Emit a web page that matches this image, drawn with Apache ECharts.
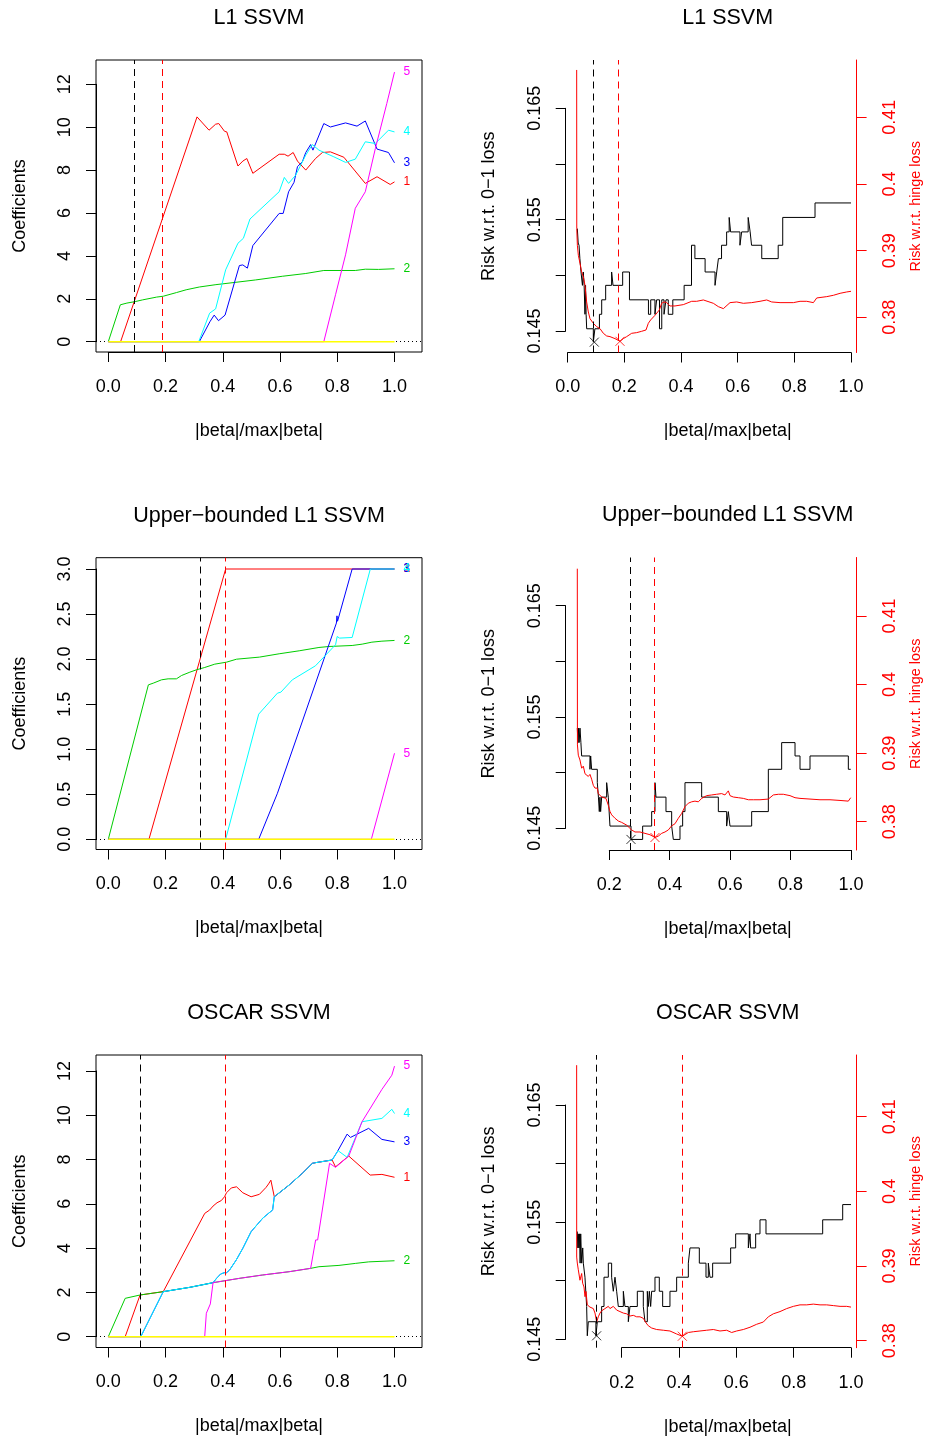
<!DOCTYPE html>
<html>
<head>
<meta charset="utf-8">
<title>SSVM coefficient paths and risk</title>
<script src="https://cdn.jsdelivr.net/npm/echarts@6.0.0/dist/echarts.min.js"></script>
<style>
html,body{margin:0;padding:0;background:#ffffff;}
#chart{width:925px;height:1440px;}
</style>
</head>
<body>
<div id="chart"></div>
<script>
// ================= DATA =================
const titles = ['L1 SSVM', 'Upper\u2212bounded L1 SSVM', 'OSCAR SSVM'];
const xName = '|beta|/max|beta|';
const coefName = 'Coefficients';
const risk01Name = 'Risk w.r.t. 0\u22121 loss';
const hingeName = 'Risk w.r.t. hinge loss';
const varLabels = ['1', '2', '3', '4', '5', '6'];

const fracTicks = [0, 0.2, 0.4, 0.6, 0.8, 1.0];
const fracTicksTrim = [0.2, 0.4, 0.6, 0.8, 1.0];
const coefTicks = [0, 2, 4, 6, 8, 10, 12];
const ubCoefTicks = [0, 0.5, 1, 1.5, 2, 2.5, 3];
const risk01Ticks = [0.145, 0.150, 0.155, 0.160, 0.165];
const risk01Labels = [0.145, 0.155, 0.165];
const hingeTicks = [0.38, 0.39, 0.40, 0.41];

// ---- L1 SSVM coefficient paths ----
const l1Coef1 = [[0,0],[0.043,0],[0.31,10.48],[0.352,9.86],[0.375,10.14],[0.386,10.17],[0.406,9.81],[0.414,9.78],[0.453,8.19],[0.47,8.42],[0.484,8.54],[0.505,7.85],[0.597,8.74],[0.615,8.74],[0.628,8.65],[0.646,8.82],[0.661,8.42],[0.69,8.0],[0.724,8.54],[0.748,8.82],[0.776,8.85],[0.823,8.6],[0.898,7.38],[0.939,7.69],[0.985,7.33],[1.0,7.45]];
const l1Coef2 = [[0,0],[0.042,1.72],[0.065,1.8],[0.094,1.87],[0.12,1.95],[0.169,2.08],[0.192,2.12],[0.238,2.29],[0.272,2.42],[0.318,2.55],[0.376,2.66],[0.446,2.77],[0.515,2.88],[0.608,3.05],[0.69,3.18],[0.753,3.32],[0.863,3.32],[0.898,3.38],[0.944,3.37],[1.0,3.4]];
const l1Coef3 = [[0,0],[0.318,0],[0.355,0.93],[0.37,1.24],[0.385,0.98],[0.408,1.24],[0.458,3.55],[0.47,3.58],[0.486,3.43],[0.505,4.48],[0.597,5.98],[0.611,5.98],[0.63,6.99],[0.649,7.43],[0.661,8.16],[0.678,8.39],[0.69,8.82],[0.707,9.19],[0.715,8.93],[0.753,10.17],[0.776,10.01],[0.829,10.2],[0.869,10.05],[0.898,10.29],[0.939,8.98],[0.979,8.82],[1.0,8.34]];
const l1Coef4 = [[0,0],[0.316,0],[0.354,1.33],[0.375,1.53],[0.41,3.35],[0.453,4.59],[0.472,4.82],[0.495,5.72],[0.597,6.99],[0.615,7.66],[0.63,7.38],[0.655,7.77],[0.69,8.7],[0.713,9.19],[0.736,8.93],[0.788,8.62],[0.829,8.36],[0.863,8.51],[0.898,9.32],[0.933,9.24],[0.979,9.86],[1.0,9.78]];
const l1Coef5 = [[0,0],[0.753,0],[0.794,2.19],[0.829,4.05],[0.863,6.22],[0.898,6.99],[0.933,9.0],[0.973,11.1],[1.0,12.57]];
const l1Coef6 = [[0,0],[1.0,0]];
const l1SelLeft = [0.094, 0.186];

// ---- Upper-bounded L1 SSVM coefficient paths ----
const ubCoef1 = [[0,0],[0.142,0],[0.41,3.0],[1.0,3.0]];
const ubCoef2 = [[0,0],[0.14,1.714],[0.157,1.733],[0.186,1.77],[0.209,1.781],[0.238,1.781],[0.256,1.818],[0.285,1.855],[0.308,1.881],[0.337,1.907],[0.372,1.944],[0.413,1.966],[0.448,1.999],[0.528,2.022],[0.597,2.059],[0.667,2.092],[0.736,2.129],[0.771,2.14],[0.852,2.151],[0.887,2.166],[0.921,2.188],[0.956,2.199],[1.0,2.207]];
const ubCoef3 = [[0,0],[0.5255,0],[0.591,0.511],[0.797,2.40],[0.799,2.48],[0.801,2.42],[0.852,3.0],[1.0,3.0]];
const ubCoef4 = [[0,0],[0.41,0],[0.5255,1.389],[0.591,1.622],[0.603,1.633],[0.643,1.77],[0.724,1.926],[0.794,2.159],[0.7998,2.251],[0.808,2.233],[0.852,2.24],[0.9155,3.0],[1.0,3.0]];
const ubCoef5 = [[0,0],[0.919,0],[1.0,0.955]];
const ubCoef6 = [[0,0],[1.0,0]];
const ubSelLeft = [0.319, 0.41];

// ---- OSCAR SSVM coefficient paths ----
const osCoef1 = [[0,0],[0.059,0],[0.111,1.884],[0.192,2.035],[0.337,5.57],[0.354,5.72],[0.366,5.9],[0.372,5.95],[0.38,6.05],[0.384,6.0],[0.395,6.15],[0.40,6.1],[0.406,6.32],[0.413,6.5],[0.43,6.72],[0.448,6.77],[0.47,6.5],[0.499,6.32],[0.528,6.43],[0.551,6.74],[0.56,6.9],[0.563,6.85],[0.568,7.07],[0.572,7.1],[0.58,6.32],[0.632,6.85],[0.678,7.38],[0.713,7.83],[0.724,7.86],[0.782,7.98],[0.788,7.98],[0.794,7.67],[0.84,8.16],[0.915,7.3],[0.956,7.33],[1.0,7.2]];
const osCoef2 = [[0,0],[0.059,1.733],[0.111,1.884],[0.192,2.035],[0.285,2.23],[0.366,2.44],[0.458,2.635],[0.539,2.786],[0.632,2.936],[0.707,3.087],[0.736,3.16],[0.806,3.22],[0.863,3.31],[0.91,3.38],[1.0,3.43]];
const osCoef3 = [[0,0],[0.1134,0],[0.192,2.035],[0.285,2.23],[0.366,2.44],[0.3785,2.64],[0.3924,2.83],[0.4051,2.89],[0.413,2.89],[0.4236,3.01],[0.4468,3.46],[0.4699,3.99],[0.4988,4.74],[0.5394,5.35],[0.5625,5.6],[0.5741,5.72],[0.58,6.32],[0.632,6.85],[0.678,7.38],[0.713,7.83],[0.724,7.86],[0.782,7.98],[0.788,7.98],[0.8,8.35],[0.8345,9.15],[0.8461,9.0],[0.9097,9.41],[0.956,8.91],[1.0,8.8]];
const osCoef4 = [[0,0],[0.1134,0],[0.192,2.035],[0.285,2.23],[0.366,2.44],[0.3785,2.64],[0.3924,2.83],[0.4051,2.89],[0.413,2.89],[0.4236,3.01],[0.4468,3.46],[0.4699,3.99],[0.4988,4.74],[0.5394,5.35],[0.5625,5.6],[0.5741,5.72],[0.58,6.32],[0.632,6.85],[0.678,7.38],[0.713,7.83],[0.724,7.86],[0.782,7.98],[0.788,7.98],[0.803,8.4],[0.8345,8.1],[0.8403,8.16],[0.8866,9.71],[0.956,9.86],[0.9907,10.27],[1.0,10.08]];
const osCoef5 = [[0,0],[0.3368,0],[0.3426,1.06],[0.3565,1.48],[0.366,2.44],[0.458,2.635],[0.539,2.786],[0.632,2.936],[0.707,3.087],[0.7245,4.37],[0.7315,4.37],[0.7731,7.83],[0.794,7.65],[0.8403,8.16],[0.8866,9.71],[0.956,11.17],[0.9907,11.81],[1.0,12.22]];
const osCoef6 = [[0,0],[1.0,0]];
const osSelLeft = [0.113, 0.412];

// ---- L1 SSVM risk curves ----
const l1Risk01 = [[0.034,0.1542],[0.037,0.1529],[0.040,0.1527],[0.043,0.1515],[0.047,0.1503],[0.052,0.1491],[0.055,0.1503],[0.058,0.1491],[0.061,0.1465],[0.063,0.1491],[0.065,0.1465],[0.067,0.1452],[0.0905,0.1440],[0.096,0.1452],[0.112,0.1465],[0.120,0.1478],[0.134,0.1491],[0.155,0.1503],[0.160,0.1491],[0.194,0.1503],[0.218,0.1478],[0.285,0.1465],[0.293,0.1478],[0.308,0.1465],[0.314,0.1478],[0.324,0.1452],[0.332,0.1478],[0.340,0.1465],[0.347,0.1478],[0.355,0.1465],[0.371,0.1478],[0.411,0.1491],[0.437,0.1527],[0.449,0.1515],[0.485,0.1503],[0.520,0.1491],[0.526,0.1503],[0.532,0.1515],[0.543,0.1527],[0.561,0.1539],[0.570,0.1552],[0.575,0.1539],[0.608,0.1527],[0.614,0.1539],[0.637,0.1552],[0.644,0.1539],[0.649,0.1527],[0.685,0.1515],[0.743,0.1527],[0.759,0.1552],[0.873,0.1565],[1.0,0.1565]];
const l1RiskHinge = [[0.0317,0.4171],[0.0320,0.3933],[0.0341,0.3908],[0.0376,0.3893],[0.0434,0.3881],[0.0493,0.3868],[0.0552,0.3861],[0.0610,0.3848],[0.0669,0.3823],[0.0728,0.3808],[0.0787,0.3798],[0.0905,0.3791],[0.1022,0.3786],[0.114,0.3783],[0.1258,0.3776],[0.1375,0.3772],[0.1493,0.3771],[0.167,0.3768],[0.1846,0.3764],[0.1964,0.3768],[0.2081,0.3771],[0.2258,0.3776],[0.2434,0.3777],[0.261,0.3779],[0.2764,0.3781],[0.2846,0.3791],[0.2928,0.3796],[0.3081,0.3803],[0.3235,0.3811],[0.3316,0.3821],[0.3399,0.3823],[0.3493,0.3822],[0.361,0.3817],[0.3787,0.3817],[0.4081,0.3819],[0.4376,0.3824],[0.4553,0.3824],[0.4788,0.3826],[0.5141,0.3821],[0.5317,0.3816],[0.5494,0.3813],[0.573,0.3822],[0.5965,0.3823],[0.62,0.3821],[0.6494,0.3822],[0.6788,0.3824],[0.7024,0.3826],[0.7083,0.3829],[0.7201,0.3823],[0.7495,0.3822],[0.7966,0.3822],[0.8201,0.3824],[0.8437,0.3824],[0.8672,0.3822],[0.879,0.3829],[0.9143,0.3831],[0.9378,0.3833],[0.9614,0.3836],[0.9849,0.3838],[1.0,0.3839]];
const l1SelRight = [0.094, 0.1846];

// ---- Upper-bounded L1 SSVM risk curves ----
const ubRisk01 = [[0.0941,0.1540],[0.0960,0.1527],[0.0985,0.1540],[0.1000,0.1527],[0.1030,0.1540],[0.1060,0.1527],[0.1085,0.1515],[0.1360,0.1503],[0.1383,0.1515],[0.1415,0.1503],[0.1603,0.1491],[0.1640,0.1478],[0.1669,0.1465],[0.1690,0.1478],[0.1713,0.1465],[0.1747,0.1478],[0.1912,0.1491],[0.1967,0.1478],[0.2022,0.1452],[0.2718,0.1440],[0.3104,0.1452],[0.3402,0.1465],[0.3512,0.1491],[0.3545,0.1478],[0.3876,0.1465],[0.4064,0.1452],[0.4119,0.1440],[0.4340,0.1452],[0.4428,0.1465],[0.4505,0.1491],[0.5057,0.1478],[0.5609,0.1465],[0.5884,0.1452],[0.5940,0.1465],[0.5995,0.1452],[0.6712,0.1465],[0.7264,0.1503],[0.7705,0.1527],[0.8147,0.1515],[0.8312,0.1503],[0.8643,0.1515],[0.9912,0.1503],[0.9990,0.1503]];
const ubRiskHinge = [[0.0941,0.4169],[0.0945,0.3912],[0.0974,0.3897],[0.1029,0.3890],[0.1085,0.3878],[0.1140,0.3881],[0.1195,0.3870],[0.1250,0.3872],[0.1305,0.3866],[0.1360,0.3869],[0.1415,0.3862],[0.1471,0.3853],[0.1526,0.3849],[0.1603,0.3849],[0.1636,0.3841],[0.1691,0.3840],[0.1747,0.3836],[0.1802,0.3838],[0.1890,0.3834],[0.1967,0.3824],[0.2022,0.3815],[0.2078,0.3810],[0.2188,0.3805],[0.2298,0.3801],[0.2409,0.3799],[0.2574,0.3795],[0.2740,0.3788],[0.2850,0.3785],[0.3016,0.3785],[0.3181,0.3783],[0.3347,0.3781],[0.3512,0.3777],[0.3622,0.3779],[0.3733,0.3783],[0.3843,0.3785],[0.3954,0.3788],[0.4064,0.3794],[0.4174,0.3797],[0.4285,0.3805],[0.4395,0.3812],[0.4505,0.3822],[0.4616,0.3827],[0.4726,0.3829],[0.4836,0.3830],[0.4947,0.3829],[0.5057,0.3834],[0.5222,0.3838],[0.5388,0.3839],[0.5553,0.3840],[0.5719,0.3841],[0.5829,0.3839],[0.5940,0.3845],[0.5995,0.3838],[0.6105,0.3836],[0.6271,0.3835],[0.6436,0.3834],[0.6602,0.3832],[0.6767,0.3832],[0.6988,0.3832],[0.7264,0.3833],[0.7429,0.3839],[0.7595,0.3840],[0.7760,0.3840],[0.7981,0.3838],[0.8147,0.3835],[0.8312,0.3834],[0.8643,0.3833],[0.8974,0.3832],[0.9305,0.3832],[0.9636,0.3831],[0.9912,0.3830],[0.9990,0.3835]];
const ubSelRight = [0.2718, 0.3512];

// ---- OSCAR SSVM risk curves ----
const osRisk01 = [[0.0451,0.1542],[0.0470,0.1528],[0.0486,0.1540],[0.0510,0.1528],[0.0530,0.1540],[0.0550,0.1515],[0.0570,0.1540],[0.0603,0.1515],[0.0640,0.1528],[0.0661,0.1515],[0.0719,0.1503],[0.0777,0.1478],[0.0800,0.1453],[0.0835,0.1465],[0.1100,0.1453],[0.1150,0.1465],[0.1300,0.1478],[0.1382,0.1503],[0.1533,0.1515],[0.1649,0.1503],[0.1707,0.1491],[0.1766,0.1503],[0.1824,0.1491],[0.1882,0.1478],[0.2057,0.1491],[0.2114,0.1478],[0.2231,0.1465],[0.2289,0.1478],[0.2545,0.1491],[0.2754,0.1478],[0.2812,0.1465],[0.2894,0.1491],[0.2929,0.1478],[0.2964,0.1491],[0.3010,0.1478],[0.3045,0.1491],[0.3161,0.1503],[0.3312,0.1491],[0.3429,0.1478],[0.3684,0.1491],[0.3917,0.1503],[0.4325,0.1515],[0.4382,0.1528],[0.4708,0.1515],[0.4941,0.1503],[0.5022,0.1515],[0.5080,0.1503],[0.5173,0.1515],[0.5801,0.1528],[0.5976,0.1540],[0.6418,0.1528],[0.6476,0.1540],[0.6499,0.1528],[0.6674,0.1540],[0.6825,0.1552],[0.7034,0.1540],[0.9012,0.1552],[0.9710,0.1565],[1.0,0.1565]];
const osRiskHinge = [[0.0428,0.4169],[0.0430,0.3912],[0.0451,0.3904],[0.0486,0.3895],[0.0544,0.3881],[0.0603,0.3890],[0.0638,0.3877],[0.0684,0.3872],[0.0719,0.3859],[0.0754,0.3866],[0.0800,0.3848],[0.0835,0.3847],[0.0893,0.3845],[0.0952,0.3846],[0.1010,0.3843],[0.1068,0.3837],[0.1126,0.3825],[0.1184,0.3832],[0.1242,0.3837],[0.1300,0.3840],[0.1417,0.3843],[0.1533,0.3846],[0.1591,0.3843],[0.1707,0.3846],[0.1824,0.3841],[0.1940,0.3839],[0.2057,0.3837],[0.2173,0.3836],[0.2289,0.3833],[0.2405,0.3834],[0.2521,0.3832],[0.2638,0.3832],[0.2754,0.3830],[0.2847,0.3824],[0.2929,0.3820],[0.3045,0.3817],[0.3219,0.3815],[0.3452,0.3814],[0.3684,0.3813],[0.3917,0.3809],[0.4115,0.3806],[0.4325,0.3811],[0.4498,0.3812],[0.4731,0.3813],[0.4964,0.3814],[0.5196,0.3815],[0.5429,0.3813],[0.5662,0.3814],[0.5836,0.3811],[0.6011,0.3813],[0.6243,0.3815],[0.6476,0.3818],[0.6709,0.3822],[0.6941,0.3825],[0.7116,0.3832],[0.7290,0.3836],[0.7523,0.3839],[0.7756,0.3843],[0.7989,0.3846],[0.8221,0.3848],[0.8454,0.3848],[0.8686,0.3849],[0.8919,0.3848],[0.9151,0.3848],[0.9384,0.3847],[0.9617,0.3846],[0.9849,0.3846],[1.0,0.3845]];
const osSelRight = [0.1126, 0.4115];

// ================= STYLE / LAYOUT =================
const FONT = "'Liberation Sans', Arial, Helvetica, sans-serif";
const varColors = ['#FF0000', '#00CD00', '#0000FF', '#00FFFF', '#FF00FF', '#FFFF00'];
const DASH = [7, 5];

const LAYOUT = {
  TL: {reg: {l: 96, t: 60, r: 422, b: 352}, xc: [108.3, 0, 394.5, 1], yc: [341.7, 0, 84.3, 12]},
  ML: {reg: {l: 96, t: 557.7, r: 422, b: 849.5}, xc: [108.3, 0, 394.5, 1], yc: [839.3, 0, 569, 3]},
  BL: {reg: {l: 96, t: 1055, r: 422, b: 1347.5}, xc: [108.3, 0, 394.5, 1], yc: [1336.7, 0, 1071, 12]},
  TR: {reg: {l: 565.7, t: 60, r: 889.7, b: 352.5}, xc: [567.7, 0, 851, 1], yb: [331, 0.145, 108.3, 0.165], yr: [317.3, 0.38, 117.3, 0.41], axisR: 856.6},
  MR: {reg: {l: 565.7, t: 557.5, r: 889.7, b: 850}, xc: [609.3, 0.2, 851, 1], yb: [828.3, 0.145, 605.7, 0.165], yr: [821.7, 0.38, 616, 0.41], axisR: 856.6},
  BR: {reg: {l: 565.7, t: 1055, r: 889.7, b: 1347.7}, xc: [621.7, 0.2, 851, 1], yb: [1339.3, 0.145, 1105, 0.165], yr: [1340.7, 0.38, 1116.7, 0.41], axisR: 856.6}
};

function p2v(c) { const k = (c[3] - c[1]) / (c[2] - c[0]); return p => c[1] + (p - c[0]) * k; }
function v2p(c) { const k = (c[2] - c[0]) / (c[3] - c[1]); return v => c[0] + (v - c[1]) * k; }

const fmt1 = v => v.toFixed(1);
const fmtInt = v => String(Math.round(v));
const fmtRisk = v => { const k = Math.round(v * 1000); return k % 10 === 5 ? (k / 1000).toFixed(3) : ''; };
const fmtHinge = v => String(parseFloat(v.toFixed(2)));

const tickText = (color) => ({fontSize: 18, fontFamily: FONT, color: color || '#000'});
const nameStyle = (size, color) => ({fontSize: size, fontFamily: FONT, color: color || '#000'});

const option = {
  animation: false,
  backgroundColor: '#ffffff',
  title: [], grid: [], xAxis: [], yAxis: [], series: []
};

function addGrid(l, t, w, h, extra) {
  option.grid.push(Object.assign({left: l, top: t, width: w, height: h, show: false, containLabel: false, outerBoundsMode: 'none'}, extra || {}));
  return option.grid.length - 1;
}
function hiddenAxis(g, min, max) { return {gridIndex: g, type: 'value', show: false, min: min, max: max}; }
function stepOf(t) { return Math.round((t[1] - t[0]) * 10000) / 10000; }

function addTitle(text, reg) {
  option.title.push({
    text: text, left: (reg.l + reg.r) / 2, top: reg.t - 42, textAlign: 'center', textVerticalAlign: 'middle', padding: 0,
    textStyle: {fontSize: 21.5, fontWeight: 'normal', fontFamily: FONT, color: '#000'}
  });
}

// bottom tick axis (line only between first and last tick, like R)
function addBottomAxis(reg, xc, ticks) {
  const xp = v2p(xc);
  const g = addGrid(xp(ticks[0]), reg.t, xp(ticks[ticks.length - 1]) - xp(ticks[0]), reg.b - reg.t);
  option.xAxis.push({
    gridIndex: g, type: 'value', position: 'bottom', min: ticks[0], max: ticks[ticks.length - 1], interval: stepOf(ticks),
    axisLine: {show: true, lineStyle: {color: '#000', width: 1}},
    axisTick: {show: true, length: 10, lineStyle: {color: '#000', width: 1}},
    axisLabel: Object.assign({show: true, margin: 26, formatter: fmt1}, tickText()),
    splitLine: {show: false}
  });
  option.yAxis.push(hiddenAxis(g, 0, 1));
}
// left tick axis
function addLeftAxis(reg, yc, ticks, fmt) {
  const yp = v2p(yc);
  const top = yp(ticks[ticks.length - 1]);
  const g = addGrid(reg.l, top, reg.r - reg.l, yp(ticks[0]) - top);
  option.xAxis.push(hiddenAxis(g, 0, 1));
  option.yAxis.push({
    gridIndex: g, type: 'value', position: 'left', min: ticks[0], max: ticks[ticks.length - 1], interval: stepOf(ticks),
    axisLine: {show: true, lineStyle: {color: '#000', width: 1}},
    axisTick: {show: true, length: 10, lineStyle: {color: '#000', width: 1}},
    axisLabel: Object.assign({show: true, rotate: 90, margin: 22, formatter: fmt}, tickText()),
    splitLine: {show: false}
  });
}

function coefPanel(L, title, yTicks, yFmt, coefs, sel) {
  const reg = L.reg, xv = p2v(L.xc), yv = p2v(L.yc);
  addTitle(title, reg);
  const g = addGrid(reg.l, reg.t, reg.r - reg.l, reg.b - reg.t, {show: true, borderColor: '#000', borderWidth: 1, backgroundColor: 'transparent'});
  const xi = option.xAxis.length, yi = option.yAxis.length;
  option.xAxis.push({
    gridIndex: g, type: 'value', min: xv(reg.l), max: xv(reg.r),
    axisLine: {show: false}, axisTick: {show: false}, axisLabel: {show: false}, splitLine: {show: false},
    name: xName, nameLocation: 'middle', nameGap: 70, nameMoveOverlap: false, nameTextStyle: nameStyle(18)
  });
  option.yAxis.push({
    gridIndex: g, type: 'value', min: yv(reg.b), max: yv(reg.t),
    axisLine: {show: false}, axisTick: {show: false}, axisLabel: {show: false}, splitLine: {show: false},
    name: coefName, nameLocation: 'middle', nameRotate: 90, nameGap: 67, nameMoveOverlap: false, nameTextStyle: nameStyle(18)
  });
  coefs.forEach((d, i) => {
    const last = d[d.length - 1][1];
    const s = {
      type: 'line', xAxisIndex: xi, yAxisIndex: yi, data: d, symbol: 'none', showSymbol: false, silent: true,
      lineStyle: {color: varColors[i], width: i === 5 ? 1.6 : 1}, itemStyle: {color: varColors[i]}, clip: false
    };
    if (Math.abs(last) > 1e-9) {
      s.endLabel = {show: true, formatter: varLabels[i], color: varColors[i], fontSize: 12, fontFamily: FONT, distance: 9};
    }
    if (i === 0) {
      // zero reference line drawn underneath the paths
      s.markLine = {
        z: 1, symbol: ['none', 'none'], silent: true, label: {show: false},
        data: [{yAxis: 0, lineStyle: {color: '#000', type: [1, 3], width: 1}}]
      };
    }
    if (i === coefs.length - 1) {
      s.markLine = {
        symbol: ['none', 'none'], silent: true, label: {show: false},
        data: [
          {xAxis: sel[0], lineStyle: {color: '#000', type: DASH, width: 1}},
          {xAxis: sel[1], lineStyle: {color: '#FF0000', type: DASH, width: 1}}
        ]
      };
    }
    option.series.push(s);
  });
  addBottomAxis(reg, L.xc, fracTicks);
  addLeftAxis(reg, L.yc, yTicks, yFmt);
}

function riskPanel(L, title, xTicks, risk01, hinge, sel) {
  const reg = L.reg, xv = p2v(L.xc), ybv = p2v(L.yb), yrv = p2v(L.yr);
  addTitle(title, reg);
  const g = addGrid(reg.l, reg.t, reg.r - reg.l, reg.b - reg.t);
  const xi = option.xAxis.length, yb = option.yAxis.length, yr = yb + 1;
  option.xAxis.push({
    gridIndex: g, type: 'value', min: xv(reg.l), max: xv(reg.r),
    axisLine: {show: false}, axisTick: {show: false}, axisLabel: {show: false}, splitLine: {show: false},
    name: xName, nameLocation: 'middle', nameGap: 70, nameMoveOverlap: false, nameTextStyle: nameStyle(18)
  });
  option.yAxis.push({
    gridIndex: g, type: 'value', position: 'left', min: ybv(reg.b), max: ybv(reg.t),
    axisLine: {show: false}, axisTick: {show: false}, axisLabel: {show: false}, splitLine: {show: false},
    name: risk01Name, nameLocation: 'middle', nameRotate: 90, nameGap: 68, nameMoveOverlap: false, nameTextStyle: nameStyle(18)
  });
  option.yAxis.push({
    gridIndex: g, type: 'value', position: 'right', offset: L.axisR - reg.r, min: yrv(reg.b), max: yrv(reg.t),
    axisLine: {show: true, lineStyle: {color: '#FF0000', width: 1}},
    axisTick: {show: true, length: 10, customValues: hingeTicks, lineStyle: {color: '#FF0000', width: 1}},
    axisLabel: Object.assign({show: true, rotate: 90, margin: 24, customValues: hingeTicks, formatter: fmtHinge}, tickText('#FF0000')),
    splitLine: {show: false},
    name: hingeName, nameLocation: 'middle', nameRotate: 90, nameGap: 52, nameMoveOverlap: false, nameTextStyle: nameStyle(14.4, '#FF0000')
  });
  const minB = Math.min.apply(null, risk01.map(p => p[1]));
  const minR = Math.min.apply(null, hinge.map(p => p[1]));
  option.series.push({
    type: 'line', step: 'end', xAxisIndex: xi, yAxisIndex: yb, data: risk01, symbol: 'none', showSymbol: false, silent: true,
    lineStyle: {color: '#000', width: 1}, itemStyle: {color: '#000'}
  });
  option.series.push({
    type: 'line', xAxisIndex: xi, yAxisIndex: yr, data: hinge, symbol: 'none', showSymbol: false, silent: true,
    lineStyle: {color: '#FF0000', width: 1}, itemStyle: {color: '#FF0000'},
    markLine: {
      symbol: ['none', 'none'], silent: true, label: {show: false},
      data: [
        {xAxis: sel[0], lineStyle: {color: '#000', type: DASH, width: 1}},
        {xAxis: sel[1], lineStyle: {color: '#FF0000', type: DASH, width: 1}}
      ]
    }
  });
  const X = 'path://M0,0L10,10M10,0L0,10';
  option.series.push({
    type: 'scatter', xAxisIndex: xi, yAxisIndex: yb, data: [[sel[0], minB]], symbol: X, symbolSize: 9, silent: true, clip: false,
    itemStyle: {color: 'none', borderColor: '#000', borderWidth: 1}
  });
  option.series.push({
    type: 'scatter', xAxisIndex: xi, yAxisIndex: yr, data: [[sel[1], minR]], symbol: X, symbolSize: 9, silent: true, clip: false,
    itemStyle: {color: 'none', borderColor: '#FF0000', borderWidth: 1}
  });
  addBottomAxis(reg, L.xc, xTicks);
  addLeftAxis(reg, L.yb, risk01Ticks, fmtRisk);
}

coefPanel(LAYOUT.TL, titles[0], coefTicks, fmtInt, [l1Coef1, l1Coef2, l1Coef3, l1Coef4, l1Coef5, l1Coef6], l1SelLeft);
coefPanel(LAYOUT.ML, titles[1], ubCoefTicks, fmt1, [ubCoef1, ubCoef2, ubCoef3, ubCoef4, ubCoef5, ubCoef6], ubSelLeft);
coefPanel(LAYOUT.BL, titles[2], coefTicks, fmtInt, [osCoef1, osCoef2, osCoef3, osCoef4, osCoef5, osCoef6], osSelLeft);
riskPanel(LAYOUT.TR, titles[0], fracTicks, l1Risk01, l1RiskHinge, l1SelRight);
riskPanel(LAYOUT.MR, titles[1], fracTicksTrim, ubRisk01, ubRiskHinge, ubSelRight);
riskPanel(LAYOUT.BR, titles[2], fracTicksTrim, osRisk01, osRiskHinge, osSelRight);

const chart = echarts.init(document.getElementById('chart'), null, {renderer: 'canvas', width: 925, height: 1440});
chart.setOption(option);
</script>
</body>
</html>
